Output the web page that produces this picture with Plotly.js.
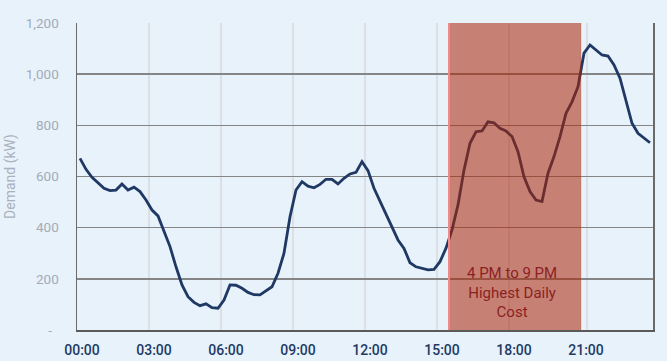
<!DOCTYPE html>
<html><head><meta charset="utf-8">
<script src="https://cdn.plot.ly/plotly-3.0.1.min.js"></script>
<style>html,body{margin:0;padding:0;background:#e8f2fb;}</style>
</head><body><div id="chart" style="width:667px;height:361px;"></div>
<script>
const times = ["00:00","00:15","00:30","00:45","01:00","01:15","01:30","01:45","02:00","02:15","02:30","02:45",
"03:00","03:15","03:30","03:45","04:00","04:15","04:30","04:45","05:00","05:15","05:30","05:45",
"06:00","06:15","06:30","06:45","07:00","07:15","07:30","07:45","08:00","08:15","08:30","08:45",
"09:00","09:15","09:30","09:45","10:00","10:15","10:30","10:45","11:00","11:15","11:30","11:45",
"12:00","12:15","12:30","12:45","13:00","13:15","13:30","13:45","14:00","14:15","14:30","14:45",
"15:00","15:15","15:30","15:45","16:00","16:15","16:30","16:45","17:00","17:15","17:30","17:45",
"18:00","18:15","18:30","18:45","19:00","19:15","19:30","19:45","20:00","20:15","20:30","20:45",
"21:00","21:15","21:30","21:45","22:00","22:15","22:30","22:45","23:00","23:15","23:30","23:45"];
const demand = [671,628,597,576,554,545,547,571,547,558,541,508,
469,446,384,326,247,176,130,108,95,102,87,85,
117,176,175,163,147,138,137,154,169,222,300,443,
547,580,562,556,569,589,589,571,593,610,616,658,
623,554,502,456,397,352,319,263,247,240,235,237,
267,320,391,489,625,730,775,778,814,810,788,778,
756,697,599,541,508,502,613,678,756,847,892,951,
1082,1114,1095,1075,1071,1036,984,899,808,769,749,732];
const xTickLabels = ["00:00","03:00","06:00","09:00","12:00","15:00","18:00","21:00"];
const yTickValues = [0,200,400,600,800,1000,1200];
const yTickLabels = ["-\u00a0\u00a0","200","400","600","800","1,000","1,200"];
const yTitle = "Demand (kW)";
const peakStart = "15:30";
const peakEnd = "21:00";
const peakLabel = "4 PM to 9 PM<br>Highest Daily<br>Cost";
const peakLabelAt = "18:00";

const i0 = times.indexOf(peakStart) - 0.5;
const i1 = times.indexOf(peakEnd) - 0.5;

const trace = {
  type: "scatter", mode: "lines", x: times, y: demand,
  line: {color: "#1f3864", width: 2.8}, hoverinfo: "skip"
};

const layout = {
  width: 667, height: 361,
  margin: {l: 77, r: 14, t: 23, b: 31},
  paper_bgcolor: "#e8f2fb", plot_bgcolor: "#e8f2fb",
  showlegend: false,
  font: {family: "Roboto, sans-serif"},
  xaxis: {
    type: "category", range: [-0.5, 95.5],
    tickmode: "array", tickvals: xTickLabels, ticktext: xTickLabels,
    tickson: "boundaries", ticks: "", tickangle: 0,
    showgrid: true, gridcolor: "#dcdfe3", gridwidth: 1.5,
    showline: true, linecolor: "#5a5a5a", linewidth: 2,
    tickfont: {size: 14, color: "#1f3864", weight: 500},
    ticklabelstandoff: 6, ticklabelshift: 2,
    zeroline: false, fixedrange: true, automargin: false
  },
  yaxis: {
    range: [0, 1200],
    tickmode: "array", tickvals: yTickValues, ticktext: yTickLabels,
    ticks: "", showgrid: true, gridcolor: "#858585", gridwidth: 1.4,
    showline: true, mirror: true, linecolor: "#6a6a6a", linewidth: 1.5,
    tickfont: {size: 13.5, color: "#a3abb7"},
    ticklabelstandoff: 14,
    title: {text: yTitle, font: {size: 14, color: "#a9b1bd"}, standoff: 7},
    zeroline: false, automargin: false, fixedrange: true
  },
  shapes: [
    {type: "rect", layer: "above", xref: "x", yref: "y",
     x0: i0, x1: i1, y0: 0, y1: 1200,
     fillcolor: "rgb(170,36,6)", opacity: 0.55, line: {width: 0}},
    {type: "line", layer: "above", xref: "x", yref: "y",
     x0: i0, x1: i0, y0: 0, y1: 1200,
     line: {color: "#f08a8a", width: 2}}
  ],
  annotations: [
    {xref: "x", yref: "y", x: peakLabelAt, y: 145, text: peakLabel, showarrow: false,
     font: {size: 15, color: "#8c1f23"}, align: "center"}
  ]
};

Plotly.newPlot("chart", [trace], layout, {displayModeBar: false, staticPlot: true});
</script></body></html>
